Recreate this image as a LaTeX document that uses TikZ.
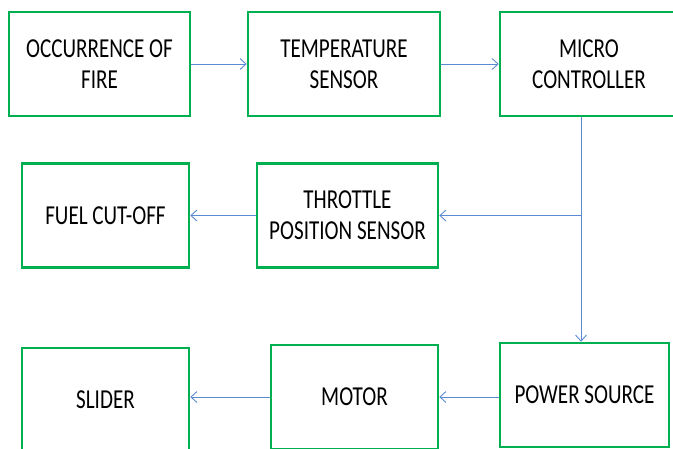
\documentclass[tikz,border=0pt]{standalone}
\usepackage{fontspec}
\setmainfont{Carlito}[FakeStretch=0.77]
\usepackage{xcolor}
\usetikzlibrary{arrows.meta,positioning,calc}
\definecolor{boxgreen}{RGB}{0,176,80}
\definecolor{linkblue}{RGB}{91,140,210}

\begin{document}
\begin{tikzpicture}[
  x=1pt, y=-1pt,
  every node/.style={font=\fontsize{27.4}{31}\selectfont},
  block/.style={draw=boxgreen, line width=2.6pt, fill=white,
                minimum height=104pt, align=center, inner sep=0pt},
  link/.style={draw=linkblue, line width=0.9pt},
  flow/.style={link, -{Straight Barb[length=6pt,width=11pt]}}
]
\useasboundingbox (0,0) rectangle (673,448);
\clip (0,0) rectangle (673,448);

\node[block, minimum width=181pt] (fire)     at (99.5,64)  {OCCURRENCE OF\\FIRE};
\node[block, minimum width=192pt] (temp)     at (344,64)   {TEMPERATURE\\SENSOR};
\node[block, minimum width=178pt] (micro)    at (589,64)   {MICRO\\CONTROLLER};
\node[block, minimum width=167pt] (fuel)     at (105.5,215.5) {FUEL CUT-OFF};
\node[block, minimum width=181pt] (throttle) at (347.5,215.5) {THROTTLE\\POSITION SENSOR};
\node[block, minimum width=167pt] (slider)   at (105.5,400) {SLIDER};
\node[block, minimum width=167pt] (motor)    at (354.5,397) {MOTOR};
\node[block, minimum width=169pt] (power)    at (584.5,395) {POWER SOURCE};
\coordinate (split) at (581,215.5);

\draw[flow] (fire) -- (temp);
\draw[flow] (temp) -- (micro);
\draw[link] (micro.south -| split) -- (split);
\draw[flow] (split) -- (power.north -| split);
\draw[flow] (split) -- (throttle);
\draw[flow] (throttle) -- (fuel);
\draw[flow] (power.west |- motor) -- (motor);
\draw[flow] (motor) -- (slider.east |- motor);
\end{tikzpicture}
\end{document}
